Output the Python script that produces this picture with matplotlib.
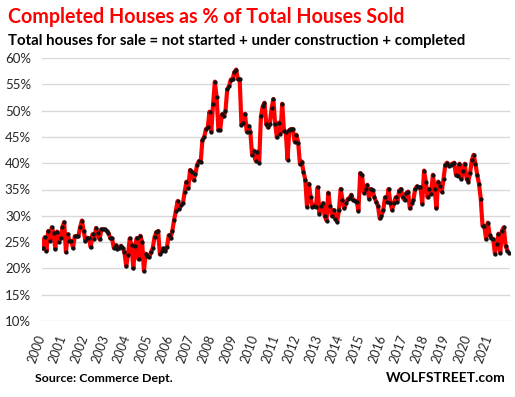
import matplotlib
matplotlib.use("Agg")
import matplotlib.pyplot as plt
import matplotlib.transforms as mtransforms
import numpy as np

plt.rcParams['font.family'] = ['Lato', 'DejaVu Sans']

# monthly share of completed houses, Jan 2000 .. Dec 2021 (%)
pct_2000_2004 = [23.8, 25.9, 23.3, 27.1, 25.3, 27.8, 26.7, 23.7, 27.0, 25.1, 25.8, 27.8,
                 28.8, 23.1, 26.5, 25.2, 25.2, 23.9, 26.1, 26.1, 26.1, 27.8, 29.1, 27.1,
                 25.2, 25.8, 25.7, 24.0, 26.5, 25.6, 27.7, 26.7, 25.5, 27.4, 27.4, 27.4,
                 27.1, 26.7, 25.8, 25.7, 23.9, 24.4, 23.7, 23.9, 24.3, 23.8, 23.1, 20.4,
                 22.5, 25.7, 24.4, 20.0, 24.2, 25.8]
pct_2004_2008 = [21.7, 26.2, 25.0, 19.5, 22.8, 22.4,
                 22.1, 23.1, 23.9, 26.0, 26.9, 27.1, 22.7, 23.3, 23.8, 23.3, 24.1, 26.3,
                 25.7, 27.1, 29.2, 30.9, 32.8, 31.3, 32.1, 32.4, 34.6, 36.5, 35.2, 38.7,
                 38.4, 36.8, 37.9, 39.7, 40.4, 40.2, 44.4, 45.0, 46.5, 46.8, 49.8, 46.0,
                 51.2, 55.5, 52.6, 46.3, 46.3, 49.3, 48.9, 49.9]
pct_2008_2009 = [54.1, 54.6, 55.9, 56.0, 57.3, 57.8, 56.0, 56.0]
pct_2009_2012 = [47.3, 47.6, 49.4, 46.0, 47.1, 46.0, 41.6, 42.4, 40.5, 42.2, 40.1, 48.9,
                 50.8, 51.5, 47.5, 46.8, 47.5, 50.4, 52.2, 47.5, 44.9, 47.7, 45.6, 51.3,
                 46.2, 46.0, 40.7, 46.3, 46.5, 46.5, 44.1, 45.4, 43.9, 39.9, 40.3, 38.4,
                 36.9, 31.7, 36.1, 33.6, 31.7, 31.9, 31.7]
pct_2012_2017 = [35.4, 30.4, 31.8, 32.4, 29.9, 29.1, 34.4, 31.8, 30.0, 31.1, 29.4, 28.9,
                 31.1, 35.1, 33.0, 31.4, 32.5, 33.2, 33.4, 34.0, 33.0, 32.9, 32.7, 31.0,
                 38.1, 37.8, 34.4, 35.1, 35.9, 33.2, 35.1, 34.9, 33.5, 32.7, 31.9, 29.5,
                 30.0, 31.1, 33.5, 32.7, 35.1, 32.5, 31.1, 32.4, 33.5, 32.7, 34.8, 35.1,
                 33.5, 33.0, 34.3, 34.6]
pct_2017_2021 = [31.4, 32.4, 33.0, 35.1, 35.6, 35.4, 35.4, 32.3, 38.6, 36.5, 33.5, 35.1,
                 34.2, 37.8, 35.1, 31.4, 36.5, 35.7, 34.6, 37.0, 39.7, 40.1, 39.5, 39.7,
                 39.9, 40.1, 37.8, 37.6, 39.9, 37.0, 38.6, 39.9, 37.0, 36.5, 38.2, 40.6,
                 41.6, 39.9, 37.8, 36.1, 33.2, 28.1, 28.1, 25.6, 28.7, 26.4, 25.7, 25.6,
                 22.8, 24.7, 26.6, 23.0, 27.2, 27.8, 24.3, 23.4, 23.0]

pct = np.array(pct_2000_2004 + pct_2004_2008 + pct_2008_2009 + pct_2009_2012
               + pct_2012_2017 + pct_2017_2021)
years = list(range(2000, 2022))
months = np.arange(len(pct))

fig = plt.figure(figsize=(5.15, 3.97), dpi=100)
ax = fig.add_axes([42 / 515, 1 - 321 / 397, 468 / 515, 263 / 397])

ax.plot(months, pct, color='#ff0000', lw=3.0, solid_joinstyle='round', zorder=3)
ax.plot(months, pct, ls='none', marker='o', ms=2.1, mfc='#111111', mec='#111111', zorder=4)

ax.set_ylim(10, 60)
ax.set_xlim(-0.5, len(pct) - 0.5)
ax.set_yticks(range(10, 61, 5))
ax.set_yticklabels([f'{v}%' for v in range(10, 61, 5)])
ax.set_xticks([12 * i for i in range(len(years))])
ax.set_xticklabels([str(y) for y in years], rotation=70, ha='right', va='top')
ax.grid(axis='y', color='#d9d9d9', lw=1)
ax.set_axisbelow(True)
for s in ax.spines.values():
    s.set_visible(False)
ax.tick_params(length=0, labelsize=9, colors='#262626')
ax.tick_params(axis='y', pad=8, labelsize=9.5)
ax.tick_params(axis='x', pad=9)
offset = mtransforms.ScaledTranslation(4.5 / 100, 0, fig.dpi_scale_trans)
for lbl in ax.get_xticklabels():
    lbl.set_transform(lbl.get_transform() + offset)

fig.text(8 / 515, 1 - 17 / 397, 'Completed Houses as % of Total Houses Sold',
         color='#ff0000', fontsize=14.1, fontweight='bold', va='center', ha='left')
fig.text(8 / 515, 1 - 41 / 397, 'Total houses for sale = not started + under construction + completed',
         color='black', fontsize=10.8, fontweight='bold', va='center', ha='left')
fig.text(35 / 515, 1 - 379 / 397, 'Source: Commerce Dept.',
         color='black', fontsize=8.9, fontweight='bold', va='center', ha='left')
fig.text(506 / 515, 1 - 378 / 397, 'WOLFSTREET.com',
         color='black', fontsize=10, fontweight='bold', va='center', ha='right')

fig.savefig('out.png', dpi=100)
